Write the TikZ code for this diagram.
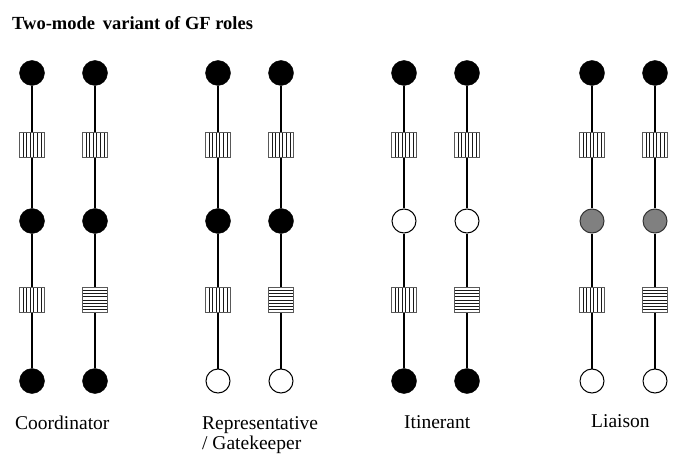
\documentclass[tikz,border=0pt]{standalone}
\usepackage{fontspec}
\setmainfont{Liberation Serif}
\tikzset{
  conn/.style={line width=2.2pt, black},
  blk/.style={circle, fill=black, draw=black, minimum size=25pt, inner sep=0pt},
  wht/.style={circle, fill=white, draw=black, line width=1pt, minimum size=24pt, inner sep=0pt},
  gry/.style={circle, fill=black!50, draw=black!80, line width=1pt, minimum size=24pt, inner sep=0pt},
  sq/.style={rectangle, draw=black!65, line width=0.8pt, fill=white, minimum size=25pt, inner sep=0pt},
  vs/.style={sq, path picture={
      \foreach \i in {1,...,6}
        \draw[line width=0.75pt, black!90] ([xshift=\i*3.57pt]path picture bounding box.north west) -- ([xshift=\i*3.57pt]path picture bounding box.south west);}},
  hs/.style={sq, path picture={
      \foreach \i in {1,...,7}
        \draw[line width=0.75pt, black!90] ([yshift=-\i*3.12pt]path picture bounding box.north west) -- ([yshift=-\i*3.12pt]path picture bounding box.north east);}},
  lbl/.style={font=\fontsize{19.5}{22}\selectfont, anchor=base west, inner sep=0pt},
}
\newcommand{\gfcolumn}[7]{%
  \node[#3] (#1a) at (#2,73) {};
  \node[#4] (#1b) at (#2,145) {};
  \node[#5] (#1c) at (#2,221) {};
  \node[#6] (#1d) at (#2,300) {};
  \node[#7] (#1e) at (#2,381) {};
  \draw[conn] (#1a) -- (#1b);
  \draw[conn] (#1b) -- (#1c);
  \draw[conn] (#1c) -- (#1d);
  \draw[conn] (#1d) -- (#1e);
}
\begin{document}
\begin{tikzpicture}[x=1pt, y=-1pt]
\useasboundingbox (0,0) rectangle (679,454);
\node[font=\fontsize{18.5}{21}\selectfont\bfseries, anchor=base west, inner sep=0pt] (title) at (12,30) {Two-mode\ \,variant of GF roles};
\gfcolumn{p}{32}{blk}{vs}{blk}{vs}{blk}
\gfcolumn{q}{95}{blk}{vs}{blk}{hs}{blk}
\gfcolumn{r}{218}{blk}{vs}{blk}{vs}{wht}
\gfcolumn{s}{281}{blk}{vs}{blk}{hs}{wht}
\gfcolumn{t}{404}{blk}{vs}{wht}{vs}{blk}
\gfcolumn{u}{467}{blk}{vs}{wht}{hs}{blk}
\gfcolumn{v}{592}{blk}{vs}{gry}{vs}{wht}
\gfcolumn{w}{655}{blk}{vs}{gry}{hs}{wht}
\node[lbl] (l1) at (15,429) {Coordinator};
\node[lbl] (l2) at (202,429) {Representative};
\node[lbl] (l2b) at (202,449) {/ Gatekeeper};
\node[lbl] (l3) at (404,428) {Itinerant};
\node[lbl] (l4) at (591,427) {Liaison};
\end{tikzpicture}
\end{document}
